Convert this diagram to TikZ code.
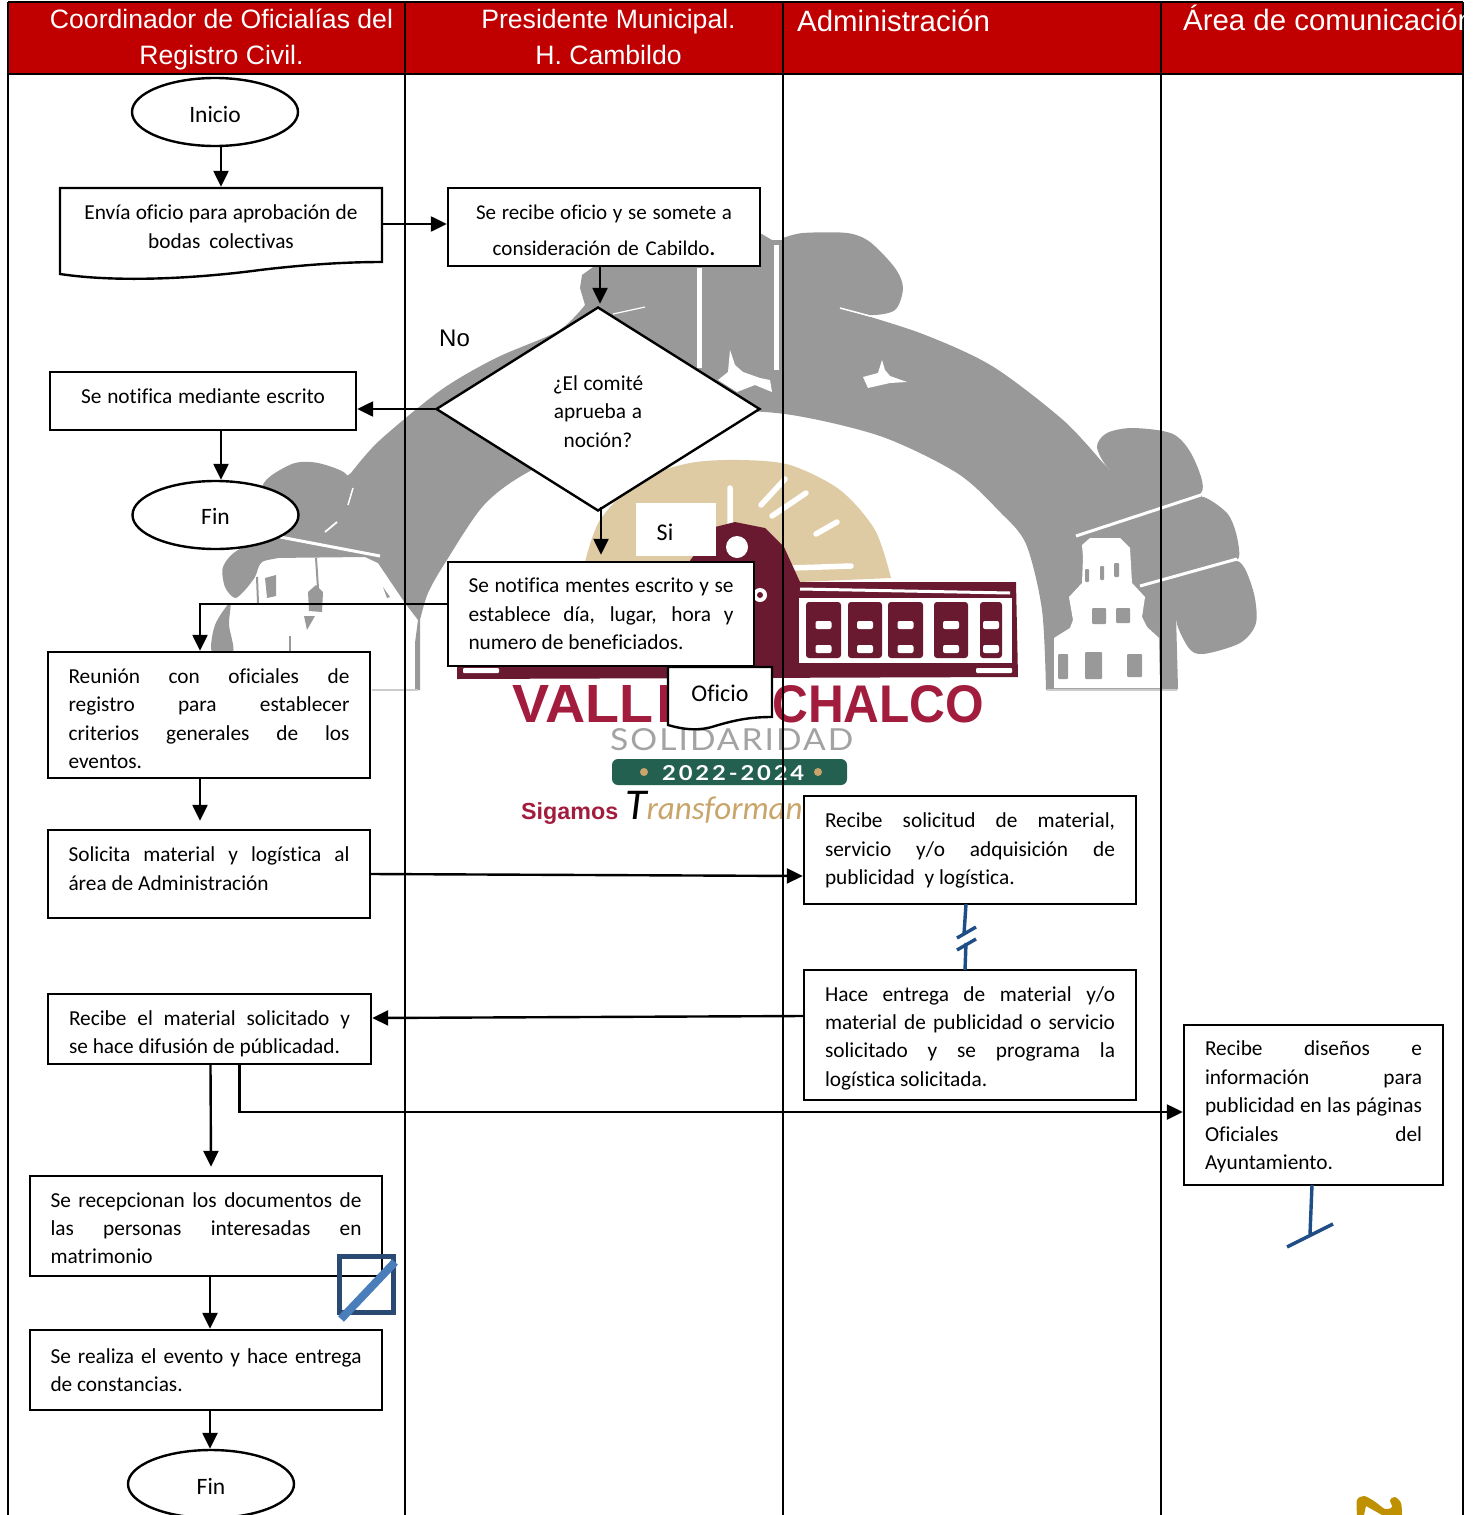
\documentclass[tikz,border=0pt]{standalone}
\usepackage{fontspec}
\usepackage{graphicx}
\setmainfont{Carlito}[Ligatures=CommonOff]
\newfontfamily\hdfont{Liberation Sans}
\newfontfamily\logofont{Lato}
\newfontfamily\boldlogo{Liberation Sans}
\usetikzlibrary{arrows.meta,shapes.geometric,calc}
\definecolor{hdred}{HTML}{C00000}
\definecolor{wm}{HTML}{999999}
\definecolor{sun}{HTML}{DFCBA3}
\definecolor{marr}{HTML}{6A1A30}
\definecolor{vred}{HTML}{A21D3D}
\definecolor{pill}{HTML}{24604F}
\definecolor{tanc}{HTML}{C9A56B}
\definecolor{bluel}{HTML}{1F4E86}
\definecolor{sqd}{HTML}{2B4A73}
\definecolor{sql}{HTML}{4A7EBB}
\definecolor{gold}{HTML}{BF9000}
\newcommand{\JJ}[1]{\makebox[\hsize][s]{\spaceskip=.2em plus 1fil\relax #1}}
\newcommand{\TS}[1]{\rule{0pt}{\dimexpr 15pt+#1pt\relax}}
\newcommand{\BS}[1]{\rule[-\dimexpr 5pt+#1pt\relax]{0pt}{1pt}}
\tikzset{
  every node/.append style={execute at begin node={\spaceskip=0pt\xspaceskip=0pt}},
  flowbox/.style={draw=black,fill=white,line width=2.4pt,rectangle,inner sep=0pt,align=left,
    font=\fontsize{21.33}{28.4}\selectfont,anchor=center},
  roundbox/.style={draw=black,fill=white,line width=2.4pt,ellipse,inner sep=0pt,
    minimum width=166pt,minimum height=68pt,font=\fontsize{23.5}{26}\selectfont},
  plainlabel/.style={inner sep=0pt,font=\fontsize{24}{26}\selectfont},
  lane/.style={line width=1.8pt,black},
  arr/.style={line width=2.4pt,-{Triangle[length=16pt,width=15pt]}},
  hdtext/.style={text=white,inner sep=0pt,font=\hdfont\fontsize{26.6}{36}\selectfont,align=center},
  hdwide/.style={hdtext,font=\hdfont\fontsize{29.4}{36}\selectfont},
  breakline/.style={line width=3.4pt,bluel},
  sep/.style={white,line width=3pt},
  rays/.style={white,line width=5.5pt,line cap=round},
  slot/.style={white,rounded corners=2pt}
}
\begin{document}
\begin{tikzpicture}[x=1pt,y=-1pt]
\useasboundingbox (0,0) rectangle (1474,1515);
\clip (0,0) rectangle (1474,1515);
\fill[white] (0,0) rectangle (1474,1515);
% ---------- watermark
\fill[wm] plot[smooth] coordinates {(351,473) (379,441) (441,390) (496,358) (558,331) (585,305)}
  -- (580,288) -- (582,275) -- (600,262) -- (760,233) -- (772,240) -- (783,240)
  -- plot[smooth] coordinates {(783,238) (803,233) (847,233) (870,242) (895,268) (903,288) (895,310) (870,315) (840,308)}
  -- plot[smooth] coordinates {(840,308) (920,333) (992,366) (1063,420) (1102,462)}
  -- (1110,470) -- (1201,495) -- (1237,559) -- (1176,615) -- (1178,688) -- (1177,690) -- (1047,690)
  -- plot[smooth] coordinates {(1046,690) (1042,610) (1026,544) (1000,512) (957,473) (880,436) (785,414) (700,412) (620,430) (530,471) (484,505) (445,563) (428,593) (420,620)}
  -- (420,690) -- (415,690) -- (415,643) -- (418,620) -- (405,603) -- (378,563) -- (365,557) -- (272,558) -- (240,555) -- cycle;
\fill[wm] plot[smooth cycle] coordinates {(353,490) (345,473) (318,463) (295,463) (272,475) (262,487) (258,515) (300,530) (345,510)};
\fill[wm] plot[smooth cycle] coordinates {(278,535) (238,550) (223,567) (225,587) (235,598) (245,590) (255,577) (262,562) (285,555)};
\fill[wm] plot[smooth cycle] coordinates {(230,603) (215,625) (212,652) (233,652) (229,625)};
\fill[wm] plot[smooth cycle] coordinates {(1097,447) (1107,433) (1133,428) (1173,434) (1193,457) (1201,493) (1150,500) (1110,470)};
\fill[wm] plot[smooth cycle] coordinates {(1201,497) (1227,513) (1237,537) (1237,559) (1205,530)};
\fill[wm] plot[smooth cycle] coordinates {(1237,561) (1253,590) (1256,623) (1240,643) (1203,654) (1188,647) (1176,615) (1200,585)};
% right tower
\fill[white] (1054,688) -- (1054,638) -- (1070,628) -- (1073,620) -- (1069,597) -- (1082,583) -- (1083,557) -- (1082,545) -- (1090,538) -- (1120,538) -- (1130,548) -- (1132,583) -- (1145,597) -- (1142,617) -- (1147,627) -- (1159,638) -- (1160,688) -- cycle;
\fill[wm,rounded corners=1pt] (1085,569) rectangle (1089,582) (1100,566) rectangle (1104,580) (1114,563) rectangle (1119,577)
  (1092,608) rectangle (1106,624) (1116,608) rectangle (1130,623)
  (1058,654) rectangle (1068,679) (1085,652) rectangle (1102,679) (1127,654) rectangle (1142,677);
\draw[sep] (1076,536) -- (1201,495);
\draw[sep] (1140,586) -- (1237,559);
% top knob separators
\draw[white,line width=5pt] (699.5,268) -- (699.5,368);
\draw[white,line width=5pt] (776,245) -- (776,370);
\draw[white,line width=1.2pt] (613,314) -- (645,307);
\draw[white,line width=1.5pt] (840,308) -- (870,316);
% doves
\fill[white] (730,350) -- (735,365) -- (743,372) -- (760,378) -- (770,380) -- (772,392) -- (755,385) -- (737,392) -- (718,380) -- (728,372) -- cycle;
\fill[white] (882,360) -- (885,370) -- (890,376) -- (907,382) -- (890,383) -- (868,388) -- (863,377) -- (878,373) -- cycle;
% left building details
\draw[sep] (280,537) -- (380,556);
\draw[white,line width=1.8pt] (325,532) -- (337,522);
\draw[white,line width=1.5pt] (348,505) -- (353,488);
\fill[wm] (265,578) -- (276,575) -- (276,596) -- (267,598) -- cycle;
\fill[wm] (308,592) -- (316,585) -- (323,592) -- (322,612) -- (309,611) -- cycle;
\fill[wm] (304,616) -- (315,616) -- (307,630) -- cycle;
\draw[wm,line width=2pt] (316,558) -- (318,588);
\draw[wm,line width=2pt] (257,577) -- (258,603);
\draw[wm,line width=2.5pt] (290,636) -- (290,652);
\fill[wm] (383,587) -- (390,597) -- (387,598) -- cycle;
\draw[wm!50,line width=1.5pt] (372,690) -- (418,690);
\draw[wm!50,line width=1.5pt] (1047,690) -- (1177,690);
% ---------- logo sun
\fill[sun] plot[smooth] coordinates {(584,566) (600,520) (640,480) (690,463) (740,460) (790,465) (840,490) (875,530) (891,578)} -- (800,582) -- cycle;
\draw[rays] (730,488) -- (730,524) (785,479) -- (761,505) (806,493) -- (772,516) (837,522) -- (816,534) (851,566) -- (792,568);
% ---------- logo building
\fill[marr] (689,562) -- (715,527) -- (735,522) -- (765,528) -- (784,547) -- (800,582) -- (1016,582) -- (1018,677) -- (457,679) -- (457,660) -- (689,640) -- cycle;
\fill[white] (737,547) circle[radius=11pt];
\fill[white] (760,595) circle[radius=7pt];
\fill[marr] (760,595) circle[radius=3pt];
\draw[white,line width=3pt] (800,589) -- (1010,593);
\fill[white] (799,598) rectangle (1012,663);
\foreach \xa/\xb in {806/841,848/882,888/923,934/968,980/1002}{
  \fill[marr,rounded corners=3pt] (\xa,602) rectangle (\xb,658);
  \fill[slot] ({(\xa+\xb)/2-8},621) rectangle ({(\xa+\xb)/2+8},629);
  \fill[slot] ({(\xa+\xb)/2-8},645) rectangle ({(\xa+\xb)/2+8},653);
}
\fill[white,rounded corners=1pt] (463,668) rectangle (499,673) (976,668) rectangle (1012,673);
% ---------- logo texts
\node[anchor=base west,inner sep=0pt,text=vred] (lgv) at (512,722) {\resizebox{141pt}{37pt}{\boldlogo\bfseries VALL}};
\fill[vred] (660,685) rectangle (668,722);
\node[anchor=base west,inner sep=0pt,text=vred] (lgc) at (772,722) {\resizebox{212pt}{37pt}{\boldlogo\bfseries CHALCO}};
\node[anchor=base west,inner sep=0pt,text=wm!90] (lgs) at (610,750) {\resizebox{243pt}{22pt}{\logofont\addfontfeature{LetterSpace=6} SOLIDARIDAD}};
\fill[pill,rounded corners=6pt] (612,759) rectangle (847,785);
\fill[tanc] (644,772) circle[radius=4pt] (818,772) circle[radius=4pt];
\node[anchor=base west,inner sep=0pt,text=white] (lgy) at (662,780) {\resizebox{142pt}{15pt}{\logofont\bfseries\addfontfeature{LetterSpace=12} 2022-2024}};
\node[anchor=base west,inner sep=0pt,text=vred] (lgg) at (521,819) {\resizebox{97pt}{!}{\boldlogo\bfseries Sigamos}};
\node[anchor=base west,inner sep=0pt] (lgt) at (625,819) {\fontsize{33}{34}\selectfont\itshape\textcolor{black}{\fontsize{44}{44}\selectfont T}\textcolor{tanc}{ransforman}};
% ---------- header
\fill[hdred] (8,2) rectangle (1463,74);
\draw[lane] (8,2) -- (1463,2);
\draw[lane] (8,74) -- (1463,74);
\draw[lane] (8,2) -- (8,1515);
\draw[lane] (405,2) -- (405,1515);
\draw[lane] (783,2) -- (783,1515);
\draw[lane] (1161,2) -- (1161,1515);
\draw[lane] (1463,2) -- (1463,1515);
\node[hdtext] (h1) at (221.5,39) {Coordinador de Oficialías del\\Registro Civil.};
\node[hdtext] (h2) at (608.5,37) {Presidente Municipal.\\H. Cambildo};
\node[hdwide,anchor=base west] (h3) at (797,31) {Administración};
\begin{scope}
\clip (1161,2) rectangle (1463,74);
\node[hdwide,anchor=base west] (h4) at (1183,30) {Área de comunicación};
\end{scope}
% ---------- nodes
\node[roundbox] (ini) at (215,112) {\TS{6}Inicio};
\fill[white,draw=black,line width=2.4pt] (60,188) -- (382,188) -- (382,262) .. controls (350,262) and (310,264) .. (260,270) .. controls (200,278) and (120,283) .. (60,274) -- cycle;
\node[flowbox,draw=none,fill=none,minimum width=322pt,minimum height=74pt,text width=290pt,align=center] (env) at (221,225) {\TS{3}Envía oficio para aprobación de\\bodas colectivas};
\node[flowbox,minimum width=312pt,minimum height=78pt,text width=290pt,align=center,font=\fontsize{21}{36}\selectfont] (rcb) at (604,227) {\TS{6}Se recibe oficio y se somete a\\consideración de Cabildo\textbf{.}};
\node[draw=black,fill=white,line width=2.4pt,diamond,aspect=1.6,minimum width=324pt,minimum height=204pt,inner sep=0pt,text width=120pt,align=center,font=\fontsize{21.33}{28.4}\selectfont] (dia) at (598,409) {\TS{5}¿El comité\\aprueba a\\noción?};
\node[plainlabel,anchor=base west,font=\hdfont\fontsize{24}{26}\selectfont] (no) at (439,346) {No};
\node[flowbox,minimum width=306pt,minimum height=58pt,text width=280pt,align=center] (ntf) at (203,401) {Se notifica mediante escrito\BS{4}};
\node[roundbox] (fn1) at (215.5,515) {\TS{4}Fin};
\fill[white] (636,503) rectangle (716,556);
\node[plainlabel,anchor=base] (si) at (665,540) {Si};
\node[flowbox,minimum width=306pt,minimum height=104pt,text width=265pt] (snt) at (601,614) {\JJ{Se notifica mentes escrito y se}\\\JJ{establece día, lugar, hora y}\\numero de beneficiados.};
\fill[white,draw=black,line width=2.4pt] (668,667) -- (772,667) -- (772,717) .. controls (750,717) and (735,720) .. (715,726) .. controls (700,731) and (685,730) .. (668,725) -- cycle;
\node[plainlabel] (ofi) at (720,693) {Oficio};
\node[flowbox,minimum width=322pt,minimum height=126pt,text width=281pt] (reu) at (209,715) {\TS{7}\JJ{Reunión con oficiales de}\\\JJ{registro para establecer}\\\JJ{criterios generales de los}\\eventos.};
\node[flowbox,minimum width=322pt,minimum height=88pt,text width=281pt] (sol) at (209,874) {\JJ{Solicita material y logística al}\\área de Administración\BS{6}};
\node[flowbox,minimum width=332pt,minimum height=108pt,text width=290pt] (rsm) at (970,850) {\TS{1}\JJ{Recibe solicitud de material,}\\\JJ{servicio y/o adquisición de}\\publicidad\ \ y logística.};
\node[flowbox,minimum width=332pt,minimum height=130pt,text width=290pt] (hac) at (970,1035) {\TS{6}\JJ{Hace entrega de material y/o}\\\JJ{material de publicidad o servicio}\\\JJ{solicitado y se programa la}\\logística solicitada.};
\node[flowbox,minimum width=323pt,minimum height=70pt,text width=281pt] (rme) at (209.5,1029) {\TS{9}\JJ{Recibe el material solicitado y}\\se hace difusión de públicadad.};
\node[flowbox,minimum width=259pt,minimum height=160pt,text width=217pt] (dis) at (1313.5,1105) {\TS{4}\JJ{Recibe diseños e}\\\JJ{información para}\\\JJ{publicidad en las páginas}\\\JJ{Oficiales del}\\Ayuntamiento.};
\node[flowbox,minimum width=352pt,minimum height=100pt,text width=311pt] (rcp) at (206,1226) {\TS{4}\JJ{Se recepcionan los documentos de}\\\JJ{las personas interesadas en}\\matrimonio};
\node[flowbox,minimum width=352pt,minimum height=80pt,text width=311pt] (evt) at (206,1370) {\JJ{Se realiza el evento y hace entrega}\\de constancias.};
\node[roundbox] (fn2) at (211,1484) {\TS{6}Fin};
% ---------- connectors
\draw[arr] (ini.south -| env.north) -- (env.north);
\draw[arr] ([yshift=1pt]env.east) -- ([yshift=1pt]rcb.west |- env.east);
\draw[arr] ([xshift=2pt]dia.north |- rcb.south) -- ([xshift=2pt,yshift=2pt]dia.north);
\draw[arr] (dia.west) -- (ntf.east |- dia.west);
\draw[arr] ([xshift=18pt]ntf.south) -- ([xshift=18pt]ntf.south |- fn1.north);
\draw[arr] ([yshift=5pt]snt.north |- dia.south) -- ([yshift=6pt]snt.north);
\draw[arr] ([yshift=10pt]snt.west) -| ([xshift=-9pt]reu.north);
\draw[arr] ([xshift=-9pt]reu.south) -- ([xshift=-9pt,yshift=8pt]sol.north);
\draw[arr] (sol.east) -- ([yshift=-2pt]rsm.west |- sol.east);
\draw[arr] ([yshift=13pt]hac.west |- rme.east) -- ([yshift=11pt]rme.east);
\draw[arr] ([xshift=1pt]rme.south) -- ([xshift=5pt,yshift=8pt]rcp.north);
\draw[arr] ([xshift=30pt]rme.south) |- (dis.west |- 0,1112);
\draw[arr] ([xshift=4pt]rcp.south) -- ([xshift=4pt]evt.north);
\draw[arr] ([xshift=4pt]evt.south) -- ([xshift=-1pt]fn2.north);
\draw[breakline] (966,904) -- (964,934);
\draw[breakline] (957,938) -- (976,927);
\draw[breakline] (957,950) -- (976,939);
\draw[breakline] (966,943) -- (965,970);
\draw[breakline] (1312,1185) -- (1310,1234);
\draw[breakline] (1287,1247) -- (1333,1224);
% annotation square
\draw[sqd,line width=5pt] (339,1256) rectangle (393,1312);
\draw[sql,line width=8pt] (341,1319) -- (395,1262);
% page number fragment
\fill[gold] plot[smooth] coordinates {(1357,1515) (1357,1500) (1364,1496) (1374,1501) (1385,1509) (1392,1507) (1390,1500) (1395,1497) (1401,1503) (1402,1515)} -- (1382,1515) -- (1366,1506) -- (1364,1515) -- cycle;
\end{tikzpicture}
\end{document}
